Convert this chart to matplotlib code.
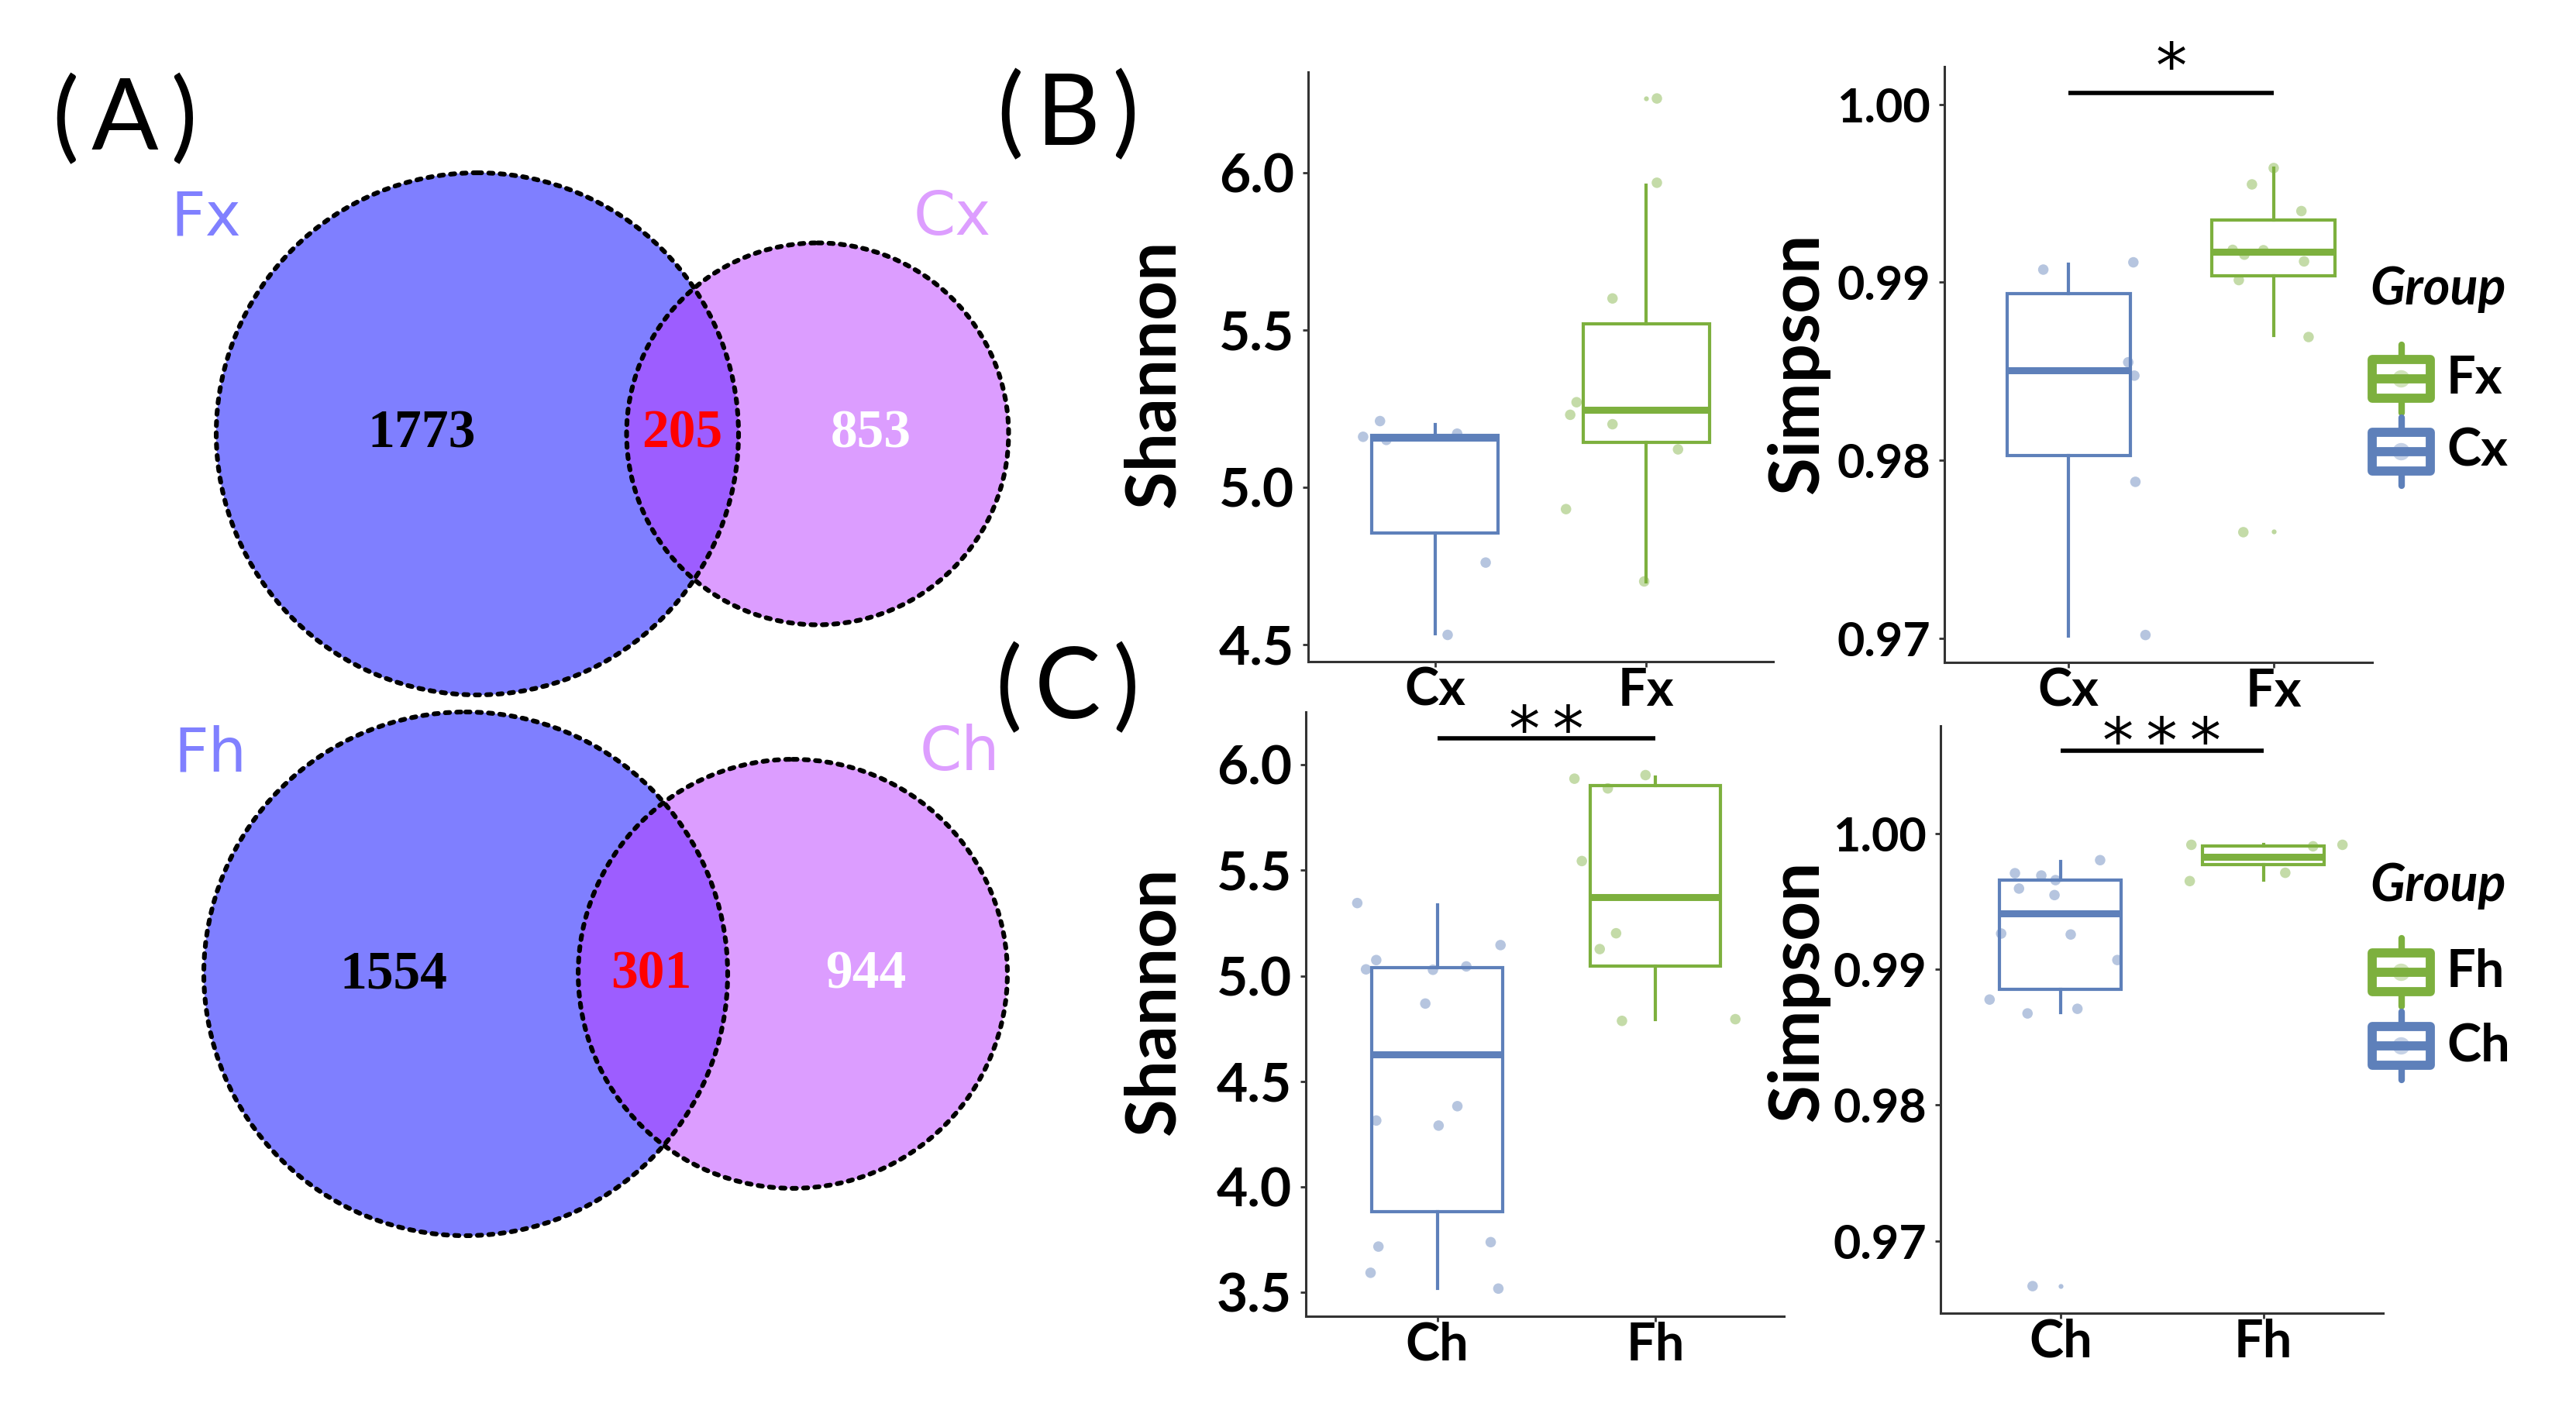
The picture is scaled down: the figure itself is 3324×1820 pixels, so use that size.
import matplotlib
matplotlib.use("Agg")
import matplotlib.pyplot as plt
from matplotlib.patches import Circle, Rectangle
import numpy as np

plt.rcParams['font.family'] = ['Lato', 'DejaVu Sans']
plt.rcParams['font.weight'] = 'bold'

# ---------------- data ----------------
# Venn counts: (only first, shared, only second)
venn_top_sets = ["Fx", "Cx"]
venn_top_counts = [1773, 205, 853]
venn_bot_sets = ["Fh", "Ch"]
venn_bot_counts = [1554, 301, 944]

# Panel B (Cx vs Fx)
groups_B = ["Cx", "Fx"]
shannon_B_stats = {  # whislo, q1, med, q3, whishi
    "Cx": [4.533, 4.854, 5.157, 5.165, 5.20],
    "Fx": [4.70, 5.143, 5.246, 5.52, 5.96],
}
shannon_B_fliers = {"Cx": [], "Fx": [6.236]}
shannon_B_points = {
    "Cx": [5.21, 5.16, 5.15, 5.17, 4.76, 4.53],
    "Fx": [6.236, 5.968, 5.60, 5.27, 5.23, 5.20, 5.12, 4.93, 4.70],
}
shannon_B_jitter = {
    "Cx": [-0.26, -0.34, -0.23, 0.105, 0.24, 0.06],
    "Fx": [0.05, 0.05, -0.16, -0.33, -0.36, -0.16, 0.15, -0.38, -0.01],
}
simpson_B_stats = {
    "Cx": [0.97012, 0.98025, 0.98507, 0.98937, 0.9910],
    "Fx": [0.98700, 0.99037, 0.99170, 0.99350, 0.99642],
}
simpson_B_fliers = {"Cx": [], "Fx": [0.97600]}
simpson_B_points = {
    "Cx": [0.99071, 0.99112, 0.98550, 0.98475, 0.97878, 0.97017],
    "Fx": [0.99642, 0.99550, 0.99400, 0.99182, 0.99155, 0.99180, 0.99117,
           0.99012, 0.98692, 0.97595],
}
simpson_B_jitter = {
    "Cx": [-0.123, 0.316, 0.291, 0.321, 0.326, 0.375],
    "Fx": [0.0, -0.106, 0.135, -0.20, -0.143, -0.05, 0.148, -0.17, 0.17, -0.148],
}

# Panel C (Ch vs Fh)
groups_C = ["Ch", "Fh"]
shannon_C_stats = {
    "Ch": [3.519, 3.882, 4.629, 5.04, 5.338],
    "Fh": [4.792, 5.045, 5.373, 5.90, 5.94],
}
shannon_C_fliers = {"Ch": [], "Fh": []}
shannon_C_points = {
    "Ch": [5.345, 5.075, 5.031, 5.029, 5.045, 5.146, 4.869, 4.315, 4.291,
           4.383, 3.718, 3.594, 3.739, 3.519],
    "Fh": [5.934, 5.888, 5.951, 5.544, 5.202, 5.127, 4.787, 4.795],
}
shannon_C_jitter = {
    "Ch": [-0.367, -0.28, -0.327, -0.02, 0.133, 0.29, -0.055, -0.28, 0.006,
           0.092, -0.27, -0.306, 0.245, 0.28],
    "Fh": [-0.371, -0.218, -0.045, -0.337, -0.18, -0.255, -0.153, 0.367],
}
simpson_C_stats = {
    "Ch": [0.98680, 0.98851, 0.99409, 0.99655, 0.99795],
    "Fh": [0.99655, 0.99768, 0.99826, 0.99904, 0.99915],
}
simpson_C_fliers = {"Ch": [0.96667], "Fh": []}
simpson_C_points = {
    "Ch": [0.99802, 0.99706, 0.99689, 0.99655, 0.99593, 0.99545, 0.99262,
           0.99255, 0.99067, 0.98776, 0.98674, 0.98708, 0.96667],
    "Fh": [0.99915, 0.99915, 0.99904, 0.99709, 0.99648],
}
simpson_C_jitter = {
    "Ch": [0.195, -0.225, -0.095, -0.025, -0.205, -0.03, -0.293, 0.05, 0.28,
           -0.35, -0.163, 0.083, -0.138],
    "Fh": [-0.355, 0.39, 0.245, 0.108, -0.363],
}

shannon_ticks_B = [4.5, 5.0, 5.5, 6.0]
shannon_ticks_C = [3.5, 4.0, 4.5, 5.0, 5.5, 6.0]
simpson_ticks = [0.97, 0.98, 0.99, 1.00]

# significance annotations: (bar level, label level, text)
sig_simpson_B = (1.00064, 1.0029, "*")
sig_shannon_C = (6.126, 6.228, "*\u2009*")
sig_simpson_C = (1.00605, 1.00776, "*\u2009*\u2009*")

# ---------------- style ----------------
BLUE = "#5E80BA"
GREEN = "#7DB03E"
group_color = {"Cx": BLUE, "Ch": BLUE, "Fx": GREEN, "Fh": GREEN}
AXC = "#333333"

W, H = 3324, 1820
fig = plt.figure(figsize=(W / 100, H / 100), dpi=100)


def rect(l, t, r, b):
    return [l / W, 1 - b / H, (r - l) / W, (b - t) / H]


ov = fig.add_axes([0, 0, 1, 1])
ov.set_xlim(0, W)
ov.set_ylim(H, 0)
ov.axis("off")


def venn(counts, names, big_c, dx, R, num_pos, name_pos):
    tot_big = counts[0] + counts[1]
    tot_small = counts[2] + counts[1]
    r_small = R * np.sqrt(tot_small / tot_big)
    c1 = big_c
    c2 = (big_c[0] + dx, big_c[1])
    ov.add_patch(Circle(c1, R, facecolor=(0, 0, 1, 0.5), edgecolor="none", zorder=1))
    ov.add_patch(Circle(c2, r_small, facecolor=(187 / 255, 61 / 255, 1, 0.5),
                        edgecolor="none", zorder=2))
    for c, r in [(c1, R), (c2, r_small)]:
        p = Circle(c, r, facecolor="none", edgecolor="black", lw=4.4,
                   linestyle=(0, (0.9, 1.5)), zorder=3)
        p.set_capstyle("round")
        ov.add_patch(p)
    cols = ["black", "red", "white"]
    for (x, y), n, col in zip(num_pos, counts, cols):
        ov.text(x, y, str(n), ha="center", va="center", color=col, fontsize=50,
                family="Liberation Serif", fontweight="bold", zorder=4)
    ov.text(name_pos[0][0], name_pos[0][1], names[0], ha="center", va="center",
            color="#8080FF", fontsize=56, family="DejaVu Sans", fontweight="normal")
    ov.text(name_pos[1][0], name_pos[1][1], names[1], ha="center", va="center",
            color="#DD9EFF", fontsize=56, family="DejaVu Sans", fontweight="normal")


venn(venn_top_counts, venn_top_sets, (616, 560), 439, 337,
     [(544, 561), (880, 561), (1124, 561)], [(266, 281), (1229, 281)])
venn(venn_bot_counts, venn_bot_sets, (601, 1257), 422, 338,
     [(508, 1258), (840, 1258), (1117, 1258)], [(271, 974), (1238, 972)])

# panel letters
for txt, x, y in [("(A)", 161, 156), ("(B)", 1378, 150), ("(C)", 1378, 890)]:
    ov.text(x, y, txt.replace("(", "(\u2009").replace(")", "\u2009)"),
            ha="center", va="center", fontsize=92, fontweight="normal")


def box_panel(rect_px, groups, stats, fliers, points, jitter, ticks, fmt,
              ylim, xlim, ytick_size, sig=None):
    ax = fig.add_axes(rect(*rect_px))
    ax.set_facecolor("none")
    for i, g in enumerate(groups):
        c = group_color[g]
        wl, q1, md, q3, wh = stats[g]
        st = dict(med=md, q1=q1, q3=q3, whislo=wl, whishi=wh, fliers=fliers[g])
        ax.bxp([st], positions=[i + 1], widths=0.6, showcaps=False,
               showfliers=True, patch_artist=True,
               boxprops=dict(facecolor="white", edgecolor=c, linewidth=3),
               medianprops=dict(color=c, linewidth=6.5, solid_capstyle="butt"),
               whiskerprops=dict(color=c, linewidth=3),
               flierprops=dict(marker="o", markersize=4.5, markerfacecolor=c,
                               markeredgecolor="none", alpha=0.5))
        xs = (i + 1) + np.array(jitter[g])
        ax.scatter(xs, points[g], s=95, color=c, alpha=0.45, edgecolors="none",
                   zorder=4)
    ax.set_xlim(*xlim)
    ax.set_ylim(*ylim)
    ax.set_xticks([1, 2])
    ax.set_xticklabels(groups, fontsize=48, fontweight="bold")
    ax.set_yticks(ticks)
    ax.set_yticklabels([fmt % t for t in ticks], fontsize=ytick_size,
                       fontweight="bold")
    for s in ["top", "right"]:
        ax.spines[s].set_visible(False)
    for s in ["left", "bottom"]:
        ax.spines[s].set_color(AXC)
        ax.spines[s].set_linewidth(2.2)
    ax.tick_params(axis="y", length=5, width=2, color=AXC, pad=8)
    ax.tick_params(axis="x", length=5, width=2, color=AXC, pad=0)
    if sig is not None:
        yl, yt, t = sig
        ax.plot([1, 2], [yl, yl], color="black", lw=4, clip_on=False,
                solid_capstyle="butt")
        ax.annotate(t, xy=(1.5, yt), xytext=(0, -32), textcoords="offset points",
                    ha="center", va="baseline", fontsize=58, fontweight="normal",
                    family="DejaVu Sans", annotation_clip=False)
    return ax


box_panel((1688, 93, 2288, 854), groups_B, shannon_B_stats, shannon_B_fliers,
          shannon_B_points, shannon_B_jitter, shannon_ticks_B, "%.1f",
          (4.445, 6.32), (0.4, 2.6), 50)
box_panel((2509, 86, 3061, 855), groups_B, simpson_B_stats, simpson_B_fliers,
          simpson_B_points, simpson_B_jitter, simpson_ticks, "%.2f",
          (0.96863, 1.00212), (0.395, 2.48), 44, sig_simpson_B)
box_panel((1685, 919, 2302, 1699), groups_C, shannon_C_stats, shannon_C_fliers,
          shannon_C_points, shannon_C_jitter, shannon_ticks_C, "%.1f",
          (3.388, 6.25), (0.397, 2.59), 50, sig_shannon_C)
box_panel((2504, 937, 3075, 1695), groups_C, simpson_C_stats, simpson_C_fliers,
          simpson_C_points, simpson_C_jitter, simpson_ticks, "%.2f",
          (0.96468, 1.0079), (0.408, 2.59), 44, sig_simpson_C)

# y-axis titles
for txt, x, y in [("Shannon", 1490, 482), ("Simpson", 2320, 469),
                  ("Shannon", 1490, 1292), ("Simpson", 2320, 1279)]:
    ov.text(x, y, txt, rotation=90, ha="center", va="center", fontsize=64,
            fontweight="bold")

# legends
ov2 = fig.add_axes([0, 0, 1, 1])
ov2.set_xlim(0, W)
ov2.set_ylim(H, 0)
ov2.axis("off")


def legend(title_y, entries):
    ov2.text(3058, title_y, "Group", ha="left", va="center", fontsize=48,
             fontstyle="italic", fontweight="bold")
    for lab, yc in entries:
        c = group_color[lab]
        ov2.add_patch(Rectangle((3061, yc - 25), 75, 50, facecolor="white",
                                edgecolor=c, lw=8.5, joinstyle="round"))
        ov2.plot([3061, 3136], [yc, yc], color=c, lw=8.5, solid_capstyle="butt")
        ov2.plot([3098.5, 3098.5], [yc - 44, yc - 29], color=c, lw=6,
                 solid_capstyle="round")
        ov2.plot([3098.5, 3098.5], [yc + 29, yc + 44], color=c, lw=6,
                 solid_capstyle="round")
        ov2.scatter([3098.5], [yc], s=260, color=c, alpha=0.35, edgecolors="none")
        ov2.text(3157, yc, lab, ha="left", va="center", fontsize=48,
                 fontweight="bold")


legend(373, [("Fx", 489), ("Cx", 583)])
legend(1144, [("Fh", 1255), ("Ch", 1350)])

fig.savefig("out.png", dpi=100, facecolor="white")
